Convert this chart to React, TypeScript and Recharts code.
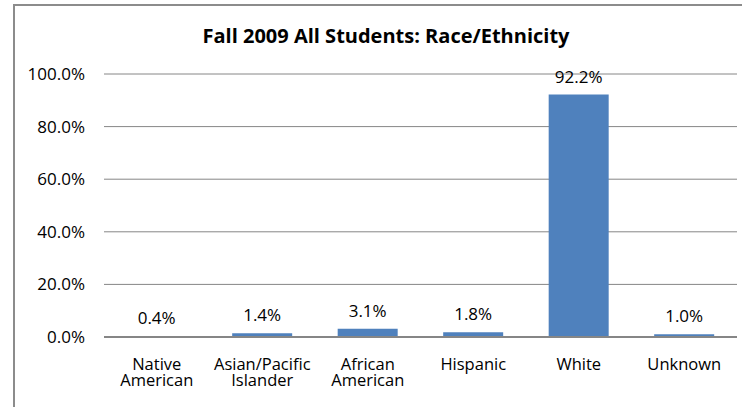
import React from "react";
import { BarChart, Bar, XAxis, YAxis, CartesianGrid, LabelList } from "recharts";

const categories = ["Native American", "Asian/Pacific Islander", "African American", "Hispanic", "White", "Unknown"];
const categoryLines = [["Native", "American"], ["Asian/Pacific", "Islander"], ["African", "American"], ["Hispanic"], ["White"], ["Unknown"]];
const values = [0.004, 0.014, 0.031, 0.018, 0.922, 0.01];
const yTicks = [0, 0.2, 0.4, 0.6, 0.8, 1.0];
const title = "Fall 2009 All Students: Race/Ethnicity";

const data = categories.map((c, i) => ({ name: c, idx: i, value: values[i] }));

const FONT = "'Open Sans', sans-serif";
const pct = (v: number) => (v * 100).toFixed(1) + "%";

const XTick = (props: any) => {
  const { x, y, payload } = props;
  const lines = categoryLines[payload.index] || [String(payload.value)];
  return (
    <g>
      {lines.map((l: string, i: number) => (
        <text key={i} x={x} y={y + 24.5 + i * 16.5} textAnchor="middle" fontFamily={FONT} fontSize={16.5} fill="#000">{l}</text>
      ))}
    </g>
  );
};

export default function App() {
  return (
    <div style={{ position: "absolute", left: 0, top: 0, width: 742, height: 407, background: "#fff" }}>
      <div style={{ position: "absolute", left: 13, top: 4, width: 742, height: 420, borderLeft: "2px solid #8c8c8c", borderTop: "2px solid #8c8c8c", boxSizing: "border-box" }} />
      <div style={{ position: "absolute", left: 0, top: 23, width: 772, textAlign: "center", fontFamily: FONT, fontWeight: 700, fontSize: 20, color: "#000", lineHeight: "26px" }}>{title}</div>
      <BarChart width={742} height={407} data={data} margin={{ top: 74, right: 5, bottom: 0, left: 0 }} barCategoryGap="21.5%">
        <CartesianGrid horizontal={true} vertical={false} stroke="#868686" strokeWidth={1} />
        <XAxis dataKey="name" interval={0} height={70} axisLine={{ stroke: "#868686", strokeWidth: 2 }} tickLine={false} tick={<XTick />} />
        <YAxis width={104} domain={[0, 1]} ticks={yTicks} tickFormatter={pct} axisLine={false} tickLine={false} tickMargin={13} tick={{ fontFamily: FONT, fontSize: 17, fill: "#000" }} />
        <Bar dataKey="value" fill="#4F81BD" isAnimationActive={false}>
          <LabelList dataKey="value" position="top" offset={12} formatter={(v: any) => pct(Number(v))} style={{ fontFamily: FONT, fontSize: 17, fill: "#000" }} />
        </Bar>
      </BarChart>
    </div>
  );
}
